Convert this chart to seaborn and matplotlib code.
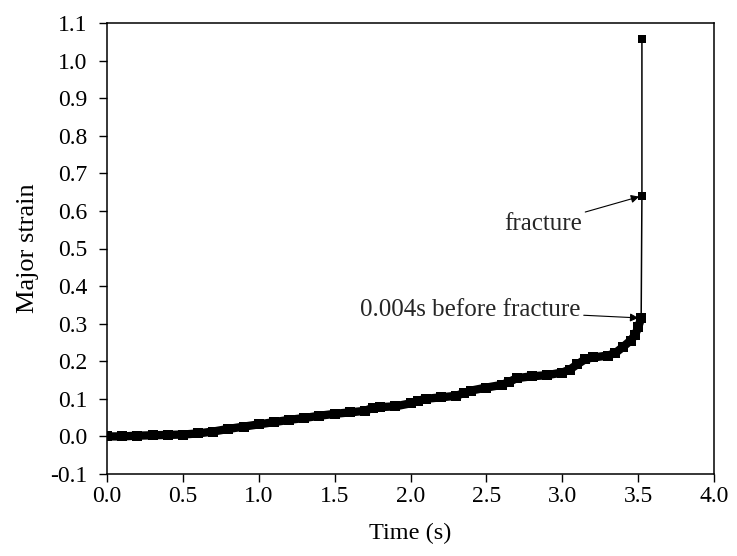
import matplotlib
matplotlib.use("Agg")
import matplotlib.pyplot as plt
import seaborn as sns
import pandas as pd
from matplotlib.ticker import FixedLocator, FuncFormatter

# ---- data ----
time_s = [0.0, 0.1, 0.2, 0.3, 0.4, 0.5, 0.6, 0.7, 0.8, 0.9, 1.0, 1.1, 1.2, 1.3,
          1.4, 1.5, 1.6, 1.7, 1.75, 1.8, 1.9, 2.0, 2.05, 2.1, 2.2, 2.3, 2.35,
          2.4, 2.5, 2.6, 2.65, 2.7, 2.8, 2.9, 3.0, 3.05, 3.1, 3.15, 3.2, 3.3,
          3.35, 3.4, 3.45, 3.48, 3.5, 3.52]
major_strain = [0.0, 0.0, 0.002, 0.003, 0.004, 0.005, 0.008, 0.013, 0.02, 0.026,
                0.032, 0.038, 0.044, 0.049, 0.055, 0.06, 0.064, 0.068, 0.076,
                0.078, 0.08, 0.088, 0.095, 0.1, 0.104, 0.108, 0.115, 0.122, 0.13,
                0.137, 0.145, 0.155, 0.16, 0.163, 0.17, 0.178, 0.192, 0.205, 0.21,
                0.215, 0.222, 0.238, 0.255, 0.27, 0.29, 0.315]
frac_time = [3.52, 3.525, 3.525]
frac_strain = [0.315, 0.64, 1.057]

x_ticks = [0.0, 0.5, 1.0, 1.5, 2.0, 2.5, 3.0, 3.5, 4.0]
y_ticks = [-0.1, 0.0, 0.1, 0.2, 0.3, 0.4, 0.5, 0.6, 0.7, 0.8, 0.9, 1.0, 1.1]
x_label = "Time (s)"
y_label = "Major strain"
ann_fracture = "fracture"
ann_before = "0.004s before fracture"

sns.set_theme(style="ticks")
plt.rcParams["font.family"] = ["Liberation Serif", "DejaVu Serif"]
plt.rcParams["axes.unicode_minus"] = False

fig = plt.figure(figsize=(7.37, 5.56), dpi=100)
ax = fig.add_axes([107 / 737, 1 - 474 / 556, (714 - 107) / 737, (474 - 23) / 556])

df_main = pd.DataFrame({"t": time_s, "s": major_strain})
df_frac = pd.DataFrame({"t": frac_time, "s": frac_strain})

sns.lineplot(data=df_main, x="t", y="s", ax=ax, color="black", lw=6,
             marker="s", markersize=7, markeredgewidth=0, sort=False,
             estimator=None)
sns.lineplot(data=df_frac, x="t", y="s", ax=ax, color="black", lw=1.1,
             marker="s", markersize=6, markeredgewidth=0, sort=False,
             estimator=None)

ax.set_xlim(0, 4.0)
ax.set_ylim(-0.1, 1.1)
ax.xaxis.set_major_locator(FixedLocator(x_ticks))
ax.yaxis.set_major_locator(FixedLocator(y_ticks))
ax.xaxis.set_major_formatter(FuncFormatter(lambda v, p: f"{v:.1f}"))
ax.yaxis.set_major_formatter(FuncFormatter(lambda v, p: f"{v:.1f}"))
ax.tick_params(axis="both", direction="out", length=6, width=1,
               labelsize=17, colors="black")
ax.tick_params(axis="x", pad=3)
ax.tick_params(axis="y", pad=8)
for sp in ax.spines.values():
    sp.set_visible(True)
    sp.set_color("black")
    sp.set_linewidth(1.1)

ax.set_xlabel(x_label, fontsize=17.5, color="black", labelpad=11)
ax.set_ylabel(y_label, fontsize=19, color="black", labelpad=8)

arrow = dict(arrowstyle="-|>", color="black", lw=0.8, mutation_scale=12,
             shrinkA=0, shrinkB=2)
ax.annotate(ann_fracture, xy=(frac_time[1], frac_strain[1]),
            xytext=(3.13, 0.565), ha="right", va="center", fontsize=18,
            arrowprops=arrow)
ax.annotate(ann_before, xy=(frac_time[0], frac_strain[0]),
            xytext=(3.12, 0.337), ha="right", va="center", fontsize=18,
            arrowprops=arrow)

fig.savefig("out.png", dpi=100)
